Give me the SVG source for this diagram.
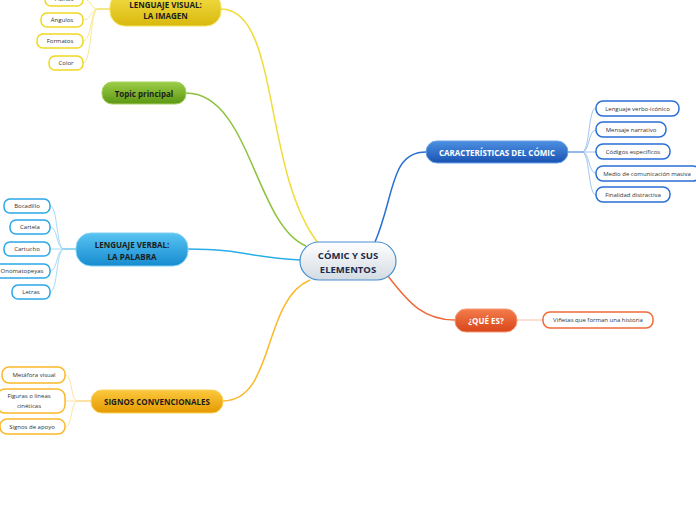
<svg xmlns="http://www.w3.org/2000/svg" width="696" height="520" viewBox="0 0 696 520">
<style>
text{font-family:"Open Sans","Noto Sans","Liberation Sans",sans-serif;text-anchor:middle;dominant-baseline:central}
.m{font-size:8px;font-weight:bold;fill:#1c1c1c}
.mw{font-size:8px;font-weight:bold;fill:#ffffff}
.l{font-size:6px;fill:#333333}
.leaf{fill:#ffffff;stroke-width:1.5}
.main{stroke-width:1}
.conn{fill:none;stroke-width:1.5}
.sub{fill:none;stroke-width:0.8}
</style>
<defs>
<linearGradient id="gC" x1="0" y1="0" x2="0" y2="1"><stop offset="0" stop-color="#ffffff"/><stop offset="1" stop-color="#d3dbe3"/></linearGradient>
<linearGradient id="gY" x1="0" y1="0" x2="0" y2="1"><stop offset="0" stop-color="#f4e04a"/><stop offset="1" stop-color="#d8b80c"/></linearGradient>
<linearGradient id="gG" x1="0" y1="0" x2="0" y2="1"><stop offset="0" stop-color="#9ccd48"/><stop offset="1" stop-color="#5c9714"/></linearGradient>
<linearGradient id="gB" x1="0" y1="0" x2="0" y2="1"><stop offset="0" stop-color="#58c4f2"/><stop offset="1" stop-color="#168bcf"/></linearGradient>
<linearGradient id="gO" x1="0" y1="0" x2="0" y2="1"><stop offset="0" stop-color="#fcc83e"/><stop offset="1" stop-color="#e49a00"/></linearGradient>
<linearGradient id="gD" x1="0" y1="0" x2="0" y2="1"><stop offset="0" stop-color="#4c90e2"/><stop offset="1" stop-color="#1a52b2"/></linearGradient>
<linearGradient id="gR" x1="0" y1="0" x2="0" y2="1"><stop offset="0" stop-color="#f47c4c"/><stop offset="1" stop-color="#d8461a"/></linearGradient>
</defs>

<g id="connectors">
<path class="conn" stroke="#f0dc3a" d="M221,9 C280,9 262,170 318,243"/>
<path class="conn" stroke="#8cc23c" d="M186,93 C250,93 255,225 306,246"/>
<path class="conn" stroke="#2aaee8" d="M188,249 C245,249 250,258 300,260"/>
<path class="conn" stroke="#fbb82a" d="M223,401 C275,401 262,300 310,280"/>
<path class="conn" stroke="#2a6fd6" d="M375,242 C395,195 390,152 426,152"/>
<path class="conn" stroke="#f0693a" d="M388,276 C410,305 425,320 455,320"/>
<path class="sub" stroke="#f6b08f" d="M517,320 L543,320"/>
<g stroke="#f3e37a">
<path class="sub" d="M110,9 L98,9 C90,9 92,-1 83,-1"/>
<path class="sub" d="M110,9 L98,9 C90,9 92,20 83,20"/>
<path class="sub" d="M110,9 L98,9 C90,9 92,41 83,41"/>
<path class="sub" d="M110,9 L98,9 C90,9 92,63 83,63"/>
</g>
<g stroke="#8fd2f2">
<path class="sub" d="M76,249 L64,249 C56,249 58,206 50,206"/>
<path class="sub" d="M76,249 L64,249 C56,249 58,227 50,227"/>
<path class="sub" d="M76,249 L50,249"/>
<path class="sub" d="M76,249 L64,249 C56,249 58,271 50,271"/>
<path class="sub" d="M76,249 L64,249 C56,249 58,292 50,292"/>
</g>
<g stroke="#fcd98a">
<path class="sub" d="M91,401 L78,401 C70,401 73,375 65,375"/>
<path class="sub" d="M91,401 L65,401"/>
<path class="sub" d="M91,401 L78,401 C70,401 73,427 65,427"/>
</g>
<g stroke="#8cb4ec">
<path class="sub" d="M568,152 L582,152 C590,152 588,108 596,108"/>
<path class="sub" d="M568,152 L582,152 C590,152 588,130 596,130"/>
<path class="sub" d="M568,152 L596,152"/>
<path class="sub" d="M568,152 L582,152 C590,152 588,173 596,173"/>
<path class="sub" d="M568,152 L582,152 C590,152 588,195 596,195"/>
</g>
</g>

<g id="center">
<rect x="300" y="242" width="96" height="38" rx="19" fill="url(#gC)" stroke="#4a90d0" stroke-width="1.2"/>
<text x="348" y="255" style="font-size:9.5px;font-weight:bold;fill:#1b2a48">CÓMIC Y SUS</text>
<text x="348" y="269" style="font-size:9.5px;font-weight:bold;fill:#1b2a48">ELEMENTOS</text>
</g>

<g id="lenguaje-visual">
<rect class="main" x="110" y="-8" width="111" height="34" rx="15" fill="url(#gY)" stroke="#f3e35e"/>
<text class="m" x="165.5" y="4">LENGUAJE VISUAL:</text>
<text class="m" x="165.5" y="15">LA IMAGEN</text>
</g>
<g id="planos"><rect class="leaf" x="45" y="-8" width="38" height="14" rx="6" stroke="#f0d820"/><text class="l" x="64" y="-1">Planos</text></g>
<g id="angulos"><rect class="leaf" x="41" y="13" width="42" height="14" rx="6" stroke="#f0d820"/><text class="l" x="62" y="20">Ángulos</text></g>
<g id="formatos"><rect class="leaf" x="37" y="34" width="46" height="14" rx="6" stroke="#f0d820"/><text class="l" x="60" y="41">Formatos</text></g>
<g id="color"><rect class="leaf" x="49" y="56" width="34" height="14" rx="6" stroke="#f0d820"/><text class="l" x="66" y="63">Color</text></g>

<g id="topic-principal">
<rect class="main" x="102" y="82" width="84" height="22" rx="10" fill="url(#gG)" stroke="#a6d25e"/>
<text class="m" x="144" y="93">Topic principal</text>
</g>

<g id="lenguaje-verbal">
<rect class="main" x="76" y="233" width="112" height="33" rx="15" fill="url(#gB)" stroke="#7fd2f6"/>
<text class="m" x="132" y="244">LENGUAJE VERBAL:</text>
<text class="m" x="132" y="256">LA PALABRA</text>
</g>
<g id="bocadillo"><rect class="leaf" x="4" y="199" width="46" height="14" rx="6" stroke="#2aa8e8"/><text class="l" x="27" y="206">Bocadillo</text></g>
<g id="cartela"><rect class="leaf" x="10" y="220" width="40" height="14" rx="6" stroke="#2aa8e8"/><text class="l" x="30" y="227">Cartela</text></g>
<g id="cartucho"><rect class="leaf" x="4" y="242" width="46" height="14" rx="6" stroke="#2aa8e8"/><text class="l" x="27" y="249">Cartucho</text></g>
<g id="onomatopeyas"><rect class="leaf" x="-6" y="264" width="56" height="14" rx="6" stroke="#2aa8e8"/><text class="l" x="22" y="271">Onomatopeyas</text></g>
<g id="letras"><rect class="leaf" x="12" y="285" width="38" height="14" rx="6" stroke="#2aa8e8"/><text class="l" x="31" y="292">Letras</text></g>

<g id="signos-convencionales">
<rect class="main" x="91" y="390" width="132" height="23" rx="11" fill="url(#gO)" stroke="#fcd460"/>
<text class="m" x="157" y="401.5">SIGNOS CONVENCIONALES</text>
</g>
<g id="metafora"><rect class="leaf" x="2" y="367" width="63" height="16" rx="7" stroke="#fcb82a"/><text class="l" x="34" y="375">Metáfora visual</text></g>
<g id="figuras"><rect class="leaf" x="-3" y="389" width="68" height="24" rx="8" stroke="#fcb82a"/><text class="l" x="29" y="396">Figuras o líneas</text><text class="l" x="29" y="406">cinéticas</text></g>
<g id="signos-apoyo"><rect class="leaf" x="0" y="419" width="65" height="15" rx="7" stroke="#fcb82a"/><text class="l" x="32" y="426.5">Signos de apoyo</text></g>

<g id="caracteristicas">
<rect class="main" x="426" y="141" width="142" height="22" rx="11" fill="url(#gD)" stroke="#6aa2e8"/>
<text class="mw" x="497" y="152">CARACTERÍSTICAS DEL CÓMIC</text>
</g>
<g id="lenguaje-verbo-iconico"><rect class="leaf" x="596" y="101" width="83" height="15" rx="7" stroke="#2a6fd6"/><text class="l" x="637.5" y="108.5">Lenguaje verbo-icónico</text></g>
<g id="mensaje-narrativo"><rect class="leaf" x="596" y="122" width="70" height="15" rx="7" stroke="#2a6fd6"/><text class="l" x="631" y="129.5">Mensaje narrativo</text></g>
<g id="codigos"><rect class="leaf" x="596" y="144" width="74" height="15" rx="7" stroke="#2a6fd6"/><text class="l" x="633" y="151.5">Códigos específicos</text></g>
<g id="medio"><rect class="leaf" x="596" y="166" width="104" height="15" rx="7" stroke="#2a6fd6"/><text class="l" x="647" y="173.5">Medio de comunicación masiva</text></g>
<g id="finalidad"><rect class="leaf" x="596" y="187" width="74" height="15" rx="7" stroke="#2a6fd6"/><text class="l" x="633" y="194.5">Finalidad distractiva</text></g>

<g id="que-es">
<rect class="main" x="455" y="309" width="62" height="23" rx="11" fill="url(#gR)" stroke="#f59a74"/>
<text class="mw" x="486" y="320.5">¿QUÉ ES?</text>
</g>
<g id="vinetas"><rect class="leaf" x="543" y="312" width="110" height="16" rx="7" stroke="#f06a3a"/><text class="l" x="598" y="320">Viñetas que forman una historia</text></g>
</svg>
